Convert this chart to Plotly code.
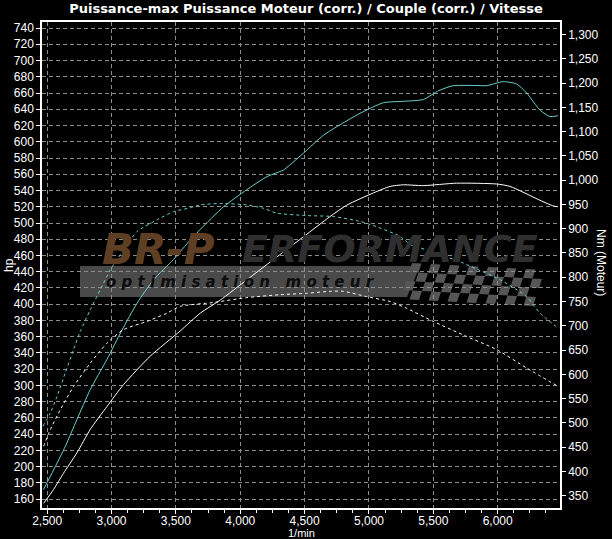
import plotly.graph_objects as go

# ---------------- data ----------------
rpm_pwr_tuned = [2472, 2550, 2641, 2731, 2835, 2964, 3081, 3197, 3326, 3481, 3611, 3689, 3870, 4051,
                 4207, 4302, 4335, 4491, 4646, 4776, 4931, 5112, 5293, 5422, 5543, 5655, 5888, 5916,
                 6043, 6148, 6225, 6328, 6406, 6468]
hp_tuned = [172, 196, 225, 258, 295, 332, 368, 401, 430, 455, 479, 492, 520, 541,
            557, 563, 565, 586, 608, 621, 635, 648, 650, 652, 663, 669, 669, 669,
            674, 671, 660, 639, 631, 632]

rpm_pwr_stock = [2473, 2550, 2627, 2731, 2835, 2964, 3093, 3300, 3533, 3689, 3844, 4051, 4258, 4491,
                 4698, 4828, 5034, 5164, 5267, 5422, 5681, 5992, 6096, 6328, 6432, 6468]
hp_stock = [155, 172, 192, 217, 246, 274, 301, 336, 367, 389, 405, 430, 455, 483,
            508, 522, 537, 545, 547, 546, 549, 548, 545, 528, 521, 520]

rpm_trq_tuned = [2467, 2524, 2576, 2641, 2705, 2757, 2835, 2912, 2990, 3093, 3197, 3352, 3481, 3611,
                 3689, 3844, 4051, 4180, 4284, 4517, 4724, 4931, 5061, 5242, 5322, 5371, 5710, 5733,
                 6018, 6225, 6328, 6470]
nm_tuned = [493, 520, 554, 603, 651, 688, 733, 774, 815, 856, 894, 918, 935, 943,
            949, 952, 949, 942, 932, 927, 925, 915, 904, 884, 867, 863, 832, 829,
            795, 760, 726, 695]

rpm_trq_stock = [2473, 2524, 2602, 2705, 2835, 2964, 3093, 3275, 3430, 3533, 3792, 4051, 4310, 4517,
                 4698, 4801, 4983, 5164, 5293, 5500, 5759, 5992, 6225, 6470]
nm_stock = [452, 486, 527, 575, 623, 664, 692, 709, 726, 740, 748, 758, 764, 767,
            771, 771, 760, 750, 736, 709, 678, 651, 613, 575]

hp_ticks = list(range(160, 741, 20))
nm_ticks = list(range(350, 1301, 50))
rpm_ticks = list(range(2500, 6001, 500))

title_text = "Puissance-max Puissance Moteur (corr.) / Couple (corr.) / Vitesse"

# ---------------- style ----------------
W, H = 612, 539
L, R, T, B = 42, 52, 22, 31
CYAN = "#6ccfcf"
WHITE = "#ffffff"
GRID = "#8c8c8c"
FONT = "Liberation Sans"

fig = go.Figure()
fig.add_trace(go.Scatter(x=rpm_trq_tuned, y=nm_tuned, yaxis="y2", mode="lines",
                         line=dict(color=CYAN, width=1, dash="3px,3px", shape="spline", smoothing=0.6),
                         name="Couple (corr.)", showlegend=False))
fig.add_trace(go.Scatter(x=rpm_trq_stock, y=nm_stock, yaxis="y2", mode="lines",
                         line=dict(color=WHITE, width=1, dash="3px,3px", shape="spline", smoothing=0.6),
                         name="Couple (corr.) origine", showlegend=False))
fig.add_trace(go.Scatter(x=rpm_pwr_tuned, y=hp_tuned, mode="lines",
                         line=dict(color=CYAN, width=1, shape="spline", smoothing=0.6),
                         name="Puissance Moteur (corr.)", showlegend=False))
fig.add_trace(go.Scatter(x=rpm_pwr_stock, y=hp_stock, mode="lines",
                         line=dict(color=WHITE, width=1, shape="spline", smoothing=0.6),
                         name="Puissance Moteur (corr.) origine", showlegend=False))

pw = W - L - R
ph = H - T - B


def fx(x):
    return (x - L) / pw


def fy(y):
    return (H - B - y) / ph


shapes = []
# watermark bar
shapes.append(dict(type="path", xref="paper", yref="paper", layer="below",
                   path=f"M {fx(80)},{fy(266)} L {fx(420)},{fy(266)} L {fx(407)},{fy(297)} L {fx(80)},{fy(297)} Z",
                   fillcolor="#4a4a4a", line=dict(width=0)))
# checkered flag (decoration)
for r in range(4):
    for c in range(14):
        if (r + c) % 2:
            continue
        x0 = 412 + c * 9.5 - r * 3
        y0 = 263 + r * 9 + (c * 0.5)
        shapes.append(dict(type="path", xref="paper", yref="paper", layer="below",
                           path=(f"M {fx(x0)},{fy(y0)} L {fx(x0 + 9.5)},{fy(y0 + 0.5)} "
                                 f"L {fx(x0 + 6.5)},{fy(y0 + 9.5)} L {fx(x0 - 3)},{fy(y0 + 9)} Z"),
                           fillcolor="#555555", line=dict(width=0)))


def ann(text, x, y, size, color, family=FONT, angle=0):
    return dict(text=text, xref="paper", yref="paper", x=fx(x), y=fy(y), xanchor="center",
                yanchor="middle", textangle=angle, showarrow=False,
                font=dict(family=family, size=size, color=color))


annotations = [
    ann("<b><i>BR-P</i></b>", 158, 249, 42, "#5e3f24", "DejaVu Sans"),
    ann("<b><i>ERFORMANCE</i></b>", 390, 249, 38, "#2f2f2f", "DejaVu Sans"),
    ann("<b><i>o p t i m i s a t i o n   m o t e u r</i></b>", 240, 282, 15, "#0d0d0d", "DejaVu Sans"),
    ann("hp", 9, 265, 12, WHITE, angle=-90),
    ann("Nm (Moteur)", 601, 262, 12, WHITE, angle=90),
    ann("1/min", 301, 533, 11, WHITE),
]

axis_common = dict(showline=True, linecolor=WHITE, linewidth=1.5, ticks="outside", ticklen=4,
                   tickcolor=WHITE, tickfont=dict(family=FONT, size=12, color=WHITE), zeroline=False,
                   automargin=False)

fig.update_layout(
    width=W, height=H,
    margin=dict(l=L, r=R, t=T, b=B, pad=0, autoexpand=False),
    paper_bgcolor="#000000", plot_bgcolor="#000000",
    title=dict(text=f"<b>{title_text}</b>", x=0.5, xref="container", xanchor="center",
               y=1 - 8 / H, yref="container", yanchor="middle",
               font=dict(family="DejaVu Sans", size=13, color=WHITE)),
    xaxis=dict(range=[2460, 6484], tickvals=rpm_ticks, tickformat=",d", mirror=True,
               showgrid=True, gridcolor=GRID, griddash="4px,3px", gridwidth=1, ticklabelstandoff=-3,
               minor=dict(dtick=125, ticklen=3, tickcolor=WHITE, ticks="outside", showgrid=False),
               **axis_common),
    yaxis=dict(range=[149.2, 747.4], tickvals=hp_ticks, mirror=True,
               showgrid=True, gridcolor=GRID, griddash="4px,3px", gridwidth=1, **axis_common),
    yaxis2=dict(range=[324.7, 1325.7], tickvals=nm_ticks, tickformat=",d", overlaying="y", side="right",
                showgrid=False, **axis_common),
    shapes=shapes,
    annotations=annotations,
    showlegend=False,
)

fig.write_html("out.html", config={"displayModeBar": False},
               post_script="document.body.style.margin='0';document.body.style.background='#000';"
                           "document.body.style.overflow='hidden';")
